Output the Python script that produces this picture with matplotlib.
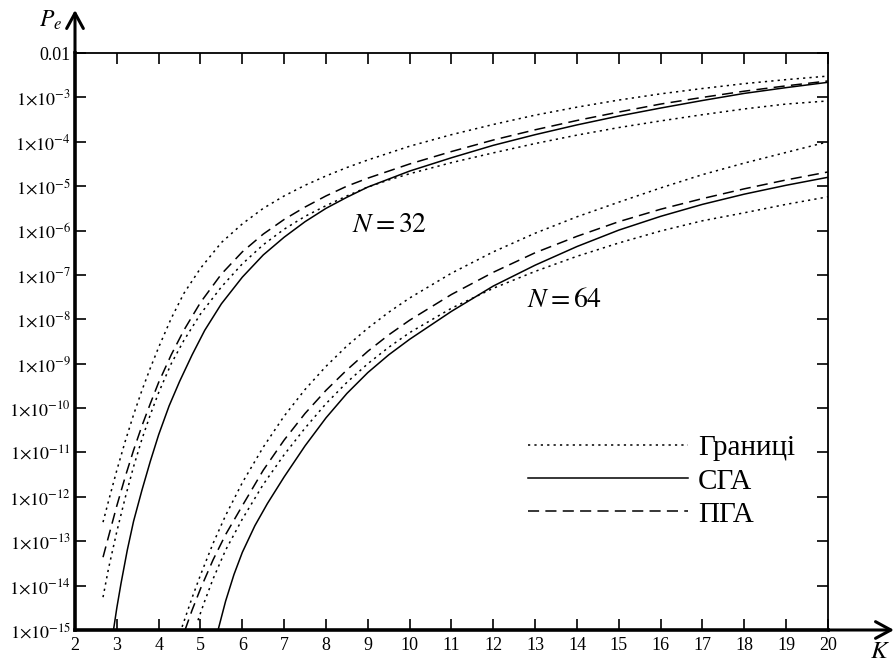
import numpy as np
import matplotlib
matplotlib.use("Agg")
import matplotlib.pyplot as plt
from matplotlib.ticker import NullLocator

plt.rcParams['font.family'] = ['Liberation Serif', 'DejaVu Serif']
plt.rcParams['mathtext.fontset'] = 'stix'
plt.rcParams['lines.scale_dashes'] = False

# values: K and log10(Pe)
# N = 32
k_sga32 = [2.92, 3.0, 3.1, 3.25, 3.4, 3.6, 3.8, 4.0, 4.25, 4.5, 4.8, 5.1, 5.5, 6.0, 6.5, 7.0, 7.5, 8.0,
           8.5, 9.0, 10, 11, 12, 13, 14, 15, 16, 17, 18, 19, 20]
p_sga32 = [-15.0, -14.5, -13.95, -13.2, -12.55, -11.85, -11.2, -10.6, -9.95, -9.4, -8.8, -8.25, -7.65,
           -7.05, -6.55, -6.15, -5.8, -5.5, -5.25, -5.02, -4.66, -4.36, -4.08, -3.84, -3.62, -3.42,
           -3.24, -3.07, -2.91, -2.78, -2.66]

k_pga32 = [2.67, 2.8, 3.0, 3.2, 3.4, 3.6, 3.8, 4.0, 4.3, 4.6, 5.0, 5.5, 6.0, 6.5, 7.0, 7.5, 8.0, 8.5,
           9.0, 10, 11, 12, 13, 14, 15, 16, 17, 18, 19, 20]
p_pga32 = [-13.36, -12.9, -12.2, -11.55, -10.95, -10.4, -9.9, -9.42, -8.8, -8.25, -7.62, -6.98, -6.48,
           -6.08, -5.75, -5.47, -5.22, -5.0, -4.82, -4.5, -4.22, -3.96, -3.73, -3.52, -3.33, -3.15,
           -3.0, -2.86, -2.74, -2.63]

k_up32 = [2.67, 2.8, 3.0, 3.2, 3.4, 3.6, 3.8, 4.0, 4.3, 4.6, 5.0, 5.5, 6.0, 6.5, 7.0, 7.5, 8.0, 8.5,
          9.0, 10, 11, 12, 13, 14, 15, 16, 17, 18, 19, 20]
p_up32 = [-12.57, -12.1, -11.4, -10.75, -10.15, -9.6, -9.1, -8.63, -7.98, -7.42, -6.85, -6.27, -5.85,
          -5.5, -5.22, -4.98, -4.77, -4.58, -4.41, -4.1, -3.84, -3.61, -3.4, -3.22, -3.06, -2.92,
          -2.8, -2.69, -2.6, -2.52]

k_lo32 = [2.67, 2.8, 3.0, 3.2, 3.4, 3.6, 3.8, 4.0, 4.3, 4.6, 5.0, 5.5, 6.0, 6.5, 7.0, 7.5, 8.0, 8.5,
          9.0, 9.5, 10, 11, 12, 13, 14, 15, 16, 17, 18, 19, 20]
p_lo32 = [-14.26, -13.62, -12.78, -12.02, -11.32, -10.7, -10.15, -9.65, -9.0, -8.48, -7.88, -7.27,
          -6.75, -6.32, -5.97, -5.68, -5.44, -5.22, -5.02, -4.86, -4.72, -4.47, -4.25, -4.04, -3.85,
          -3.68, -3.53, -3.39, -3.26, -3.15, -3.08]

# N = 64
k_sga64 = [5.42, 5.6, 5.8, 6.0, 6.3, 6.6, 7.0, 7.5, 8.0, 8.5, 9.0, 9.5, 10, 11, 12, 13, 14, 15, 16,
           17, 18, 19, 20]
p_sga64 = [-15.0, -14.35, -13.75, -13.25, -12.65, -12.15, -11.55, -10.85, -10.22, -9.67, -9.2, -8.8,
           -8.45, -7.82, -7.25, -6.78, -6.36, -5.99, -5.68, -5.41, -5.18, -4.98, -4.8]

k_pga64 = [4.63, 4.8, 5.0, 5.3, 5.6, 6.0, 6.5, 7.0, 7.5, 8.0, 8.5, 9.0, 9.5, 10, 11, 12, 13, 14, 15,
           16, 17, 18, 19, 20]
p_pga64 = [-15.0, -14.55, -14.07, -13.42, -12.85, -12.2, -11.4, -10.72, -10.12, -9.6, -9.14, -8.72,
           -8.35, -8.02, -7.44, -6.94, -6.5, -6.13, -5.8, -5.52, -5.28, -5.06, -4.86, -4.68]

k_up64 = [4.56, 4.8, 5.0, 5.3, 5.6, 6.0, 6.5, 7.0, 7.5, 8.0, 8.5, 9.0, 9.5, 10, 11, 12, 13, 14, 15,
          16, 17, 18, 19, 20]
p_up64 = [-14.93, -14.27, -13.76, -13.05, -12.42, -11.68, -10.88, -10.18, -9.58, -9.06, -8.6, -8.2,
          -7.84, -7.52, -6.96, -6.48, -6.06, -5.69, -5.36, -5.04, -4.74, -4.48, -4.24, -4.0]

k_lo64 = [4.94, 5.1, 5.3, 5.6, 6.0, 6.5, 7.0, 7.5, 8.0, 8.5, 9.0, 9.5, 10, 11, 12, 13, 14, 15, 16,
          17, 18, 19, 20]
p_lo64 = [-14.78, -14.35, -13.85, -13.2, -12.5, -11.72, -11.05, -10.45, -9.9, -9.42, -9.0, -8.63,
          -8.3, -7.75, -7.3, -6.92, -6.58, -6.28, -6.01, -5.78, -5.6, -5.41, -5.24]

x_ticks = list(range(2, 21))
y_exps = list(range(-15, -2))
legend_labels = ['Границі', 'СГА', 'ПГА']

bound_style = (0, (1.6, 3.0))
pga_style = (0, (8.0, 4.5))
lw = 1.1

fig = plt.figure(figsize=(8.95, 6.64), dpi=100)
ax = fig.add_axes([75 / 895, 1 - 630 / 664, 753 / 895, 577 / 664])

# bounds first so legend order is right
ax.plot(k_up32, 10.0 ** np.array(p_up32), color='black', lw=lw, ls=bound_style, label=legend_labels[0])
ax.plot(k_sga32, 10.0 ** np.array(p_sga32), color='black', lw=lw, ls='-', label=legend_labels[1])
ax.plot(k_pga32, 10.0 ** np.array(p_pga32), color='black', lw=lw, ls=pga_style, label=legend_labels[2])
ax.plot(k_lo32, 10.0 ** np.array(p_lo32), color='black', lw=lw, ls=bound_style)

ax.plot(k_up64, 10.0 ** np.array(p_up64), color='black', lw=lw, ls=bound_style)
ax.plot(k_lo64, 10.0 ** np.array(p_lo64), color='black', lw=lw, ls=bound_style)
ax.plot(k_sga64, 10.0 ** np.array(p_sga64), color='black', lw=lw, ls='-')
ax.plot(k_pga64, 10.0 ** np.array(p_pga64), color='black', lw=lw, ls=pga_style)

ax.set_yscale('log')
ax.set_xlim(2, 20)
ax.set_ylim(1e-15, 1e-2)

ax.set_xticks(x_ticks)
ax.set_xticklabels([str(k) for k in x_ticks], fontsize=13)
yt = [10.0 ** e for e in y_exps] + [1e-2]
ylabels = [r'$1{\times}10^{%d}$' % e for e in y_exps] + ['0.01']
ax.set_yticks(yt)
ax.set_yticklabels(ylabels, fontsize=13)
ax.yaxis.set_minor_locator(NullLocator())

ax.tick_params(axis='both', direction='in', top=True, right=True, length=8, width=1.2)
ax.tick_params(axis='x', pad=5)
ax.tick_params(axis='y', pad=3)

ax.spines['left'].set_linewidth(2.6)
ax.spines['bottom'].set_linewidth(2.6)
ax.spines['top'].set_linewidth(1.3)
ax.spines['right'].set_linewidth(1.3)

# axis arrows
arrow = dict(arrowstyle='->,head_length=0.55,head_width=0.3', lw=2.2, color='black',
             shrinkA=0, shrinkB=0, mutation_scale=20)
ax.annotate('', xy=(0, 1 + 43 / 577), xytext=(0, 1), xycoords='axes fraction',
            arrowprops=arrow, annotation_clip=False)
ax.annotate('', xy=(1 + 66 / 753, 0), xytext=(1, 0), xycoords='axes fraction',
            arrowprops=arrow, annotation_clip=False)

ax.text(-0.033, 1.056, r'$P_e$', transform=ax.transAxes, fontsize=17, ha='center', va='center')
ax.text(1.069, -0.038, r'$K$', transform=ax.transAxes, fontsize=18, ha='center', va='center')

ax.text(8.62, 10 ** -5.88, r'$N = 32$', fontsize=20, ha='left', va='center')
ax.text(12.8, 10 ** -7.57, r'$N = 64$', fontsize=20, ha='left', va='center')

ax.legend(loc='upper left', bbox_to_anchor=(0.601, 0.338), frameon=False, fontsize=21,
          handlelength=5.5, handletextpad=0.34, labelspacing=0.23, borderpad=0, borderaxespad=0)

fig.savefig('out.png', dpi=100)
